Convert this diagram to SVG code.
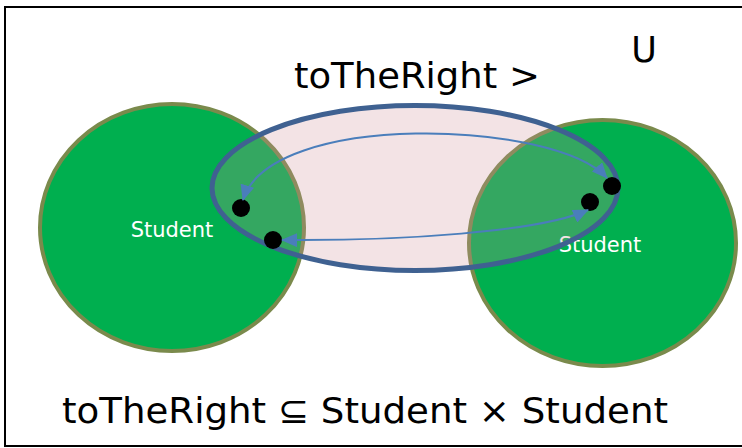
<svg xmlns="http://www.w3.org/2000/svg" width="742" height="448" viewBox="0 0 742 448">
<style>
.set{fill:#00AF4F;stroke:#7A8A4C;stroke-width:4}
.lbl{font-family:"DejaVu Sans",Verdana,sans-serif;fill:#000}
.slbl{font-family:"DejaVu Sans",Verdana,sans-serif;fill:#fff;font-size:21px;text-anchor:middle}
.dot{fill:#000}
.arr{fill:none;stroke:#4A7EBB;stroke-width:2;marker-start:url(#ah);marker-end:url(#ah)}
</style>
<defs>
<marker id="ah" markerUnits="userSpaceOnUse" markerWidth="16" markerHeight="14" viewBox="0 0 16 14" refX="15" refY="7" orient="auto-start-reverse">
<path d="M0,0 L16,7 L0,14 Z" fill="#4A7EBB"/>
</marker>
</defs>
<rect x="5" y="7" width="760" height="439" fill="#fff" stroke="#000" stroke-width="2"/>
<g id="student-left">
<ellipse class="set" cx="172" cy="227.5" rx="132" ry="123.5"/>
<text class="slbl" x="172" y="237">Student</text>
</g>
<g id="student-right">
<ellipse class="set" cx="602.5" cy="243" rx="133.5" ry="123"/>
<text class="slbl" x="600" y="252">Student</text>
</g>
<g id="toTheRight">
<ellipse cx="415" cy="188" rx="203" ry="82.5" fill="rgb(208,144,152)" fill-opacity="0.25" stroke="#3F6191" stroke-width="5"/>
</g>
<g id="dots">
<circle class="dot" cx="241" cy="208" r="9"/>
<circle class="dot" cx="273" cy="240" r="9"/>
<circle class="dot" cx="590" cy="202" r="9"/>
<circle class="dot" cx="612" cy="186" r="9"/>
</g>
<g id="connectors">
<path class="arr" d="M243,200 C270,110 555,120 607,178"/>
<path class="arr" d="M282,240 C400,241 540,232 588,210"/>
</g>
<text class="lbl" x="294" y="87.5" font-size="35" textLength="246" lengthAdjust="spacingAndGlyphs">toTheRight &gt;</text>
<text class="lbl" x="644" y="62" font-size="35" text-anchor="middle">U</text>
<text class="lbl" x="62" y="423" font-size="36" textLength="606" lengthAdjust="spacingAndGlyphs">toTheRight ⊆ Student × Student</text>
</svg>
